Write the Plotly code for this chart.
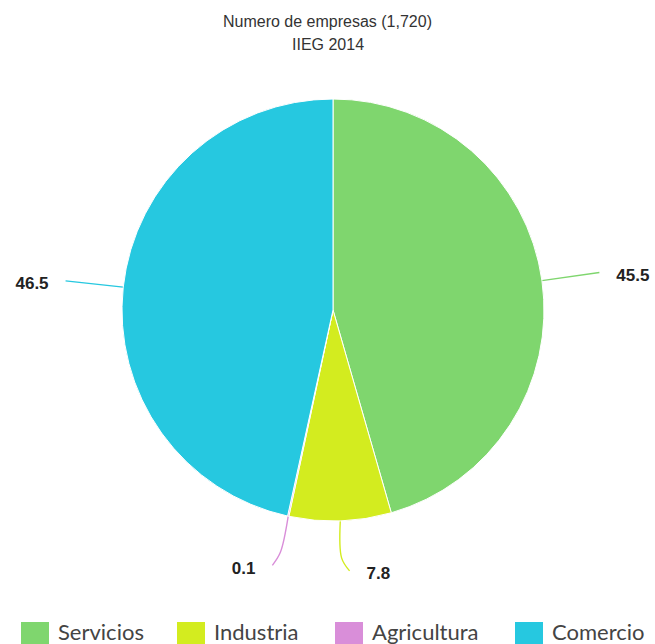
import math
import plotly.graph_objects as go

# ---- data ----
categories = ["Servicios", "Industria", "Agricultura", "Comercio"]
values = [45.5, 7.8, 0.1, 46.5]
colors = ["#7fd66e", "#d3ec1f", "#d98ed9", "#26c8e0"]
title_line1 = "Numero de empresas (1,720)"
title_line2 = "IIEG 2014"

# ---- layout geometry (pixels) ----
W, H = 655, 644
cx, cy, R = 333, 310, 211
legend_item_x = [21, 177, 335, 515]   # left edge of each legend entry (flow layout)
legend_sym = 28
legend_top = 622
legend_text_y = 631

fig = go.Figure()
fig.add_trace(go.Pie(
    labels=categories, values=values, sort=False, direction="clockwise", rotation=0,
    marker=dict(colors=colors, line=dict(color="white", width=1)),
    textinfo="none", hoverinfo="label+value",
    domain=dict(x=[(cx - R) / W, (cx + R) / W], y=[1 - (cy + R) / H, 1 - (cy - R) / H]),
    showlegend=False,
))

# connectors and data labels, derived from the values
total = sum(values)
cum = 0.0
for lab, v, col in zip(categories, values, colors):
    mid = (cum + v / 2) / total
    cum += v
    th = 2 * math.pi * mid
    dx, dy = math.sin(th), -math.cos(th)
    s = 1 if dx >= 0 else -1
    ex, ey = cx + R * dx, cy + R * dy
    if abs(dy) > 0.8:
        p1 = (cx + (R + 37) * dx, cy + (R + 37) * dy)
        p2 = (p1[0] + s * 8, p1[1] + 13)
    else:
        p1 = (cx + (R + 58) * dx, cy + (R + 58) * dy)
        p2 = p1
    tx, ty = p2[0] + s * 17, p2[1] + 4
    fig.add_trace(go.Scatter(
        x=[ex, p1[0], p2[0]], y=[ey, p1[1], p2[1]], mode="lines",
        line=dict(color=col, width=1.4, shape="spline"),
        showlegend=False, hoverinfo="skip"))
    fig.add_trace(go.Scatter(
        x=[tx], y=[ty], mode="text", text=[f"{v:.1f}"],
        textposition="middle right" if s > 0 else "middle left",
        textfont=dict(family="Liberation Sans, Arial", size=17, color="#222222"),
        texttemplate="<b>%{text}</b>",
        showlegend=False, hoverinfo="skip"))

# legend (symbol squares + labels)
shapes = []
annotations = [
    dict(text=title_line1, x=0.5, y=1 - 21 / H, xref="paper", yref="paper", showarrow=False,
         yanchor="middle", font=dict(family="Liberation Sans, Arial", size=16, color="#333333")),
    dict(text=title_line2, x=0.5, y=1 - 44 / H, xref="paper", yref="paper", showarrow=False,
         yanchor="middle", font=dict(family="Liberation Sans, Arial", size=16, color="#333333")),
]
for lx, lab, col in zip(legend_item_x, categories, colors):
    shapes.append(dict(type="rect", xref="x", yref="y", x0=lx, x1=lx + legend_sym,
                       y0=legend_top, y1=legend_top + legend_sym,
                       fillcolor=col, line=dict(width=0), layer="above"))
    annotations.append(dict(text=lab, x=lx + legend_sym + 7, y=legend_text_y, xref="x", yref="y",
                            xanchor="left", yanchor="middle", showarrow=False,
                            font=dict(family="Lato, Open Sans", size=22, color="#444444")))

fig.update_layout(
    width=W, height=H, margin=dict(l=0, r=0, t=0, b=0),
    paper_bgcolor="white", plot_bgcolor="rgba(0,0,0,0)",
    xaxis=dict(range=[0, W], visible=False, domain=[0, 1], fixedrange=True),
    yaxis=dict(range=[H, 0], visible=False, domain=[0, 1], fixedrange=True),
    showlegend=False,
    shapes=shapes,
    annotations=annotations,
)

fig.write_html("out.html", config={"displayModeBar": False},
               post_script="document.body.style.margin='0';")
